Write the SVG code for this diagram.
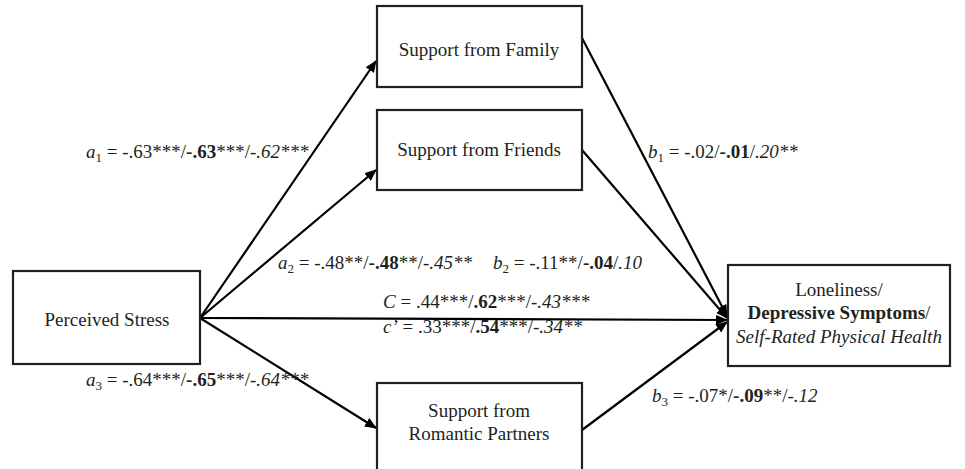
<svg xmlns="http://www.w3.org/2000/svg" width="965" height="469" viewBox="0 0 965 469">
<defs>
<style>
.box{fill:#fff;stroke:#231f20;stroke-width:2.2}
.ln{stroke:#000;stroke-width:2.2;fill:none;marker-end:url(#ah)}
.i{font-style:italic}
.b{font-weight:bold}
</style>
<marker id="ah" viewBox="0 0 12 10" refX="11" refY="5" markerWidth="12" markerHeight="10" markerUnits="userSpaceOnUse" orient="auto">
<path d="M0,0 L12,5 L0,10 Z" fill="#000"/>
</marker>
</defs>
<rect width="965" height="469" fill="#fff"/>
<g id="connectors">
<line class="ln" x1="200" y1="318" x2="376" y2="61"/>
<line class="ln" x1="200" y1="318" x2="376" y2="170"/>
<line class="ln" x1="200" y1="318" x2="727" y2="320"/>
<line class="ln" x1="200" y1="318" x2="376" y2="428"/>
<line class="ln" x1="582" y1="38" x2="727" y2="316"/>
<line class="ln" x1="582" y1="150" x2="727" y2="318"/>
<line class="ln" x1="582" y1="430" x2="727" y2="322"/>
</g>
<g font-family="Liberation Serif, Times New Roman, serif" font-size="19" fill="#231f20">
<g id="stress">
<rect class="box" x="13" y="271" width="187" height="93"/>
<text x="107" y="326" text-anchor="middle">Perceived Stress</text>
</g>
<g id="family">
<rect class="box" x="377" y="6" width="205" height="81"/>
<text x="479" y="56" text-anchor="middle">Support from Family</text>
</g>
<g id="friends">
<rect class="box" x="377" y="110" width="205" height="80"/>
<text x="479" y="156" text-anchor="middle">Support from Friends</text>
</g>
<g id="romantic">
<rect class="box" x="377" y="383" width="205" height="100"/>
<text x="479" y="417" text-anchor="middle">Support from</text>
<text x="479" y="440" text-anchor="middle">Romantic Partners</text>
</g>
<g id="outcome">
<rect class="box" x="728" y="265" width="222" height="101"/>
<text x="839" y="296" text-anchor="middle">Loneliness/</text>
<text x="839" y="319" text-anchor="middle"><tspan class="b">Depressive Symptoms</tspan>/</text>
<text x="839" y="343" text-anchor="middle" class="i">Self-Rated Physical Health</text>
</g>
<g id="labels">
<text x="86" y="158"><tspan class="i">a</tspan><tspan font-size="13" dy="4">1</tspan><tspan dy="-4"> = -.63***/</tspan><tspan class="b">-.63</tspan>***/<tspan class="i">-.62***</tspan></text>
<text x="648" y="158"><tspan class="i">b</tspan><tspan font-size="13" dy="4">1</tspan><tspan dy="-4"> = -.02/</tspan><tspan class="b">-.01</tspan>/<tspan class="i">.20**</tspan></text>
<text x="278" y="269"><tspan class="i">a</tspan><tspan font-size="13" dy="4">2</tspan><tspan dy="-4"> = -.48**/</tspan><tspan class="b">-.48</tspan>**/<tspan class="i">-.45**</tspan></text>
<text x="493" y="269"><tspan class="i">b</tspan><tspan font-size="13" dy="4">2</tspan><tspan dy="-4"> = -.11**/</tspan><tspan class="b">-.04</tspan>/<tspan class="i">.10</tspan></text>
<text x="383" y="308"><tspan class="i">C</tspan> = .44***/<tspan class="b">.62</tspan>***/<tspan class="i">-.43***</tspan></text>
<text x="383" y="333"><tspan class="i">c’</tspan> = .33***/<tspan class="b">.54</tspan>***/<tspan class="i">-.34**</tspan></text>
<text x="86" y="386"><tspan class="i">a</tspan><tspan font-size="13" dy="4">3</tspan><tspan dy="-4"> = -.64***/</tspan><tspan class="b">-.65</tspan>***/<tspan class="i">-.64***</tspan></text>
<text x="652" y="402"><tspan class="i">b</tspan><tspan font-size="13" dy="4">3</tspan><tspan dy="-4"> = -.07*/</tspan><tspan class="b">-.09</tspan>**/<tspan class="i">-.12</tspan></text>
</g>
</g>
</svg>
